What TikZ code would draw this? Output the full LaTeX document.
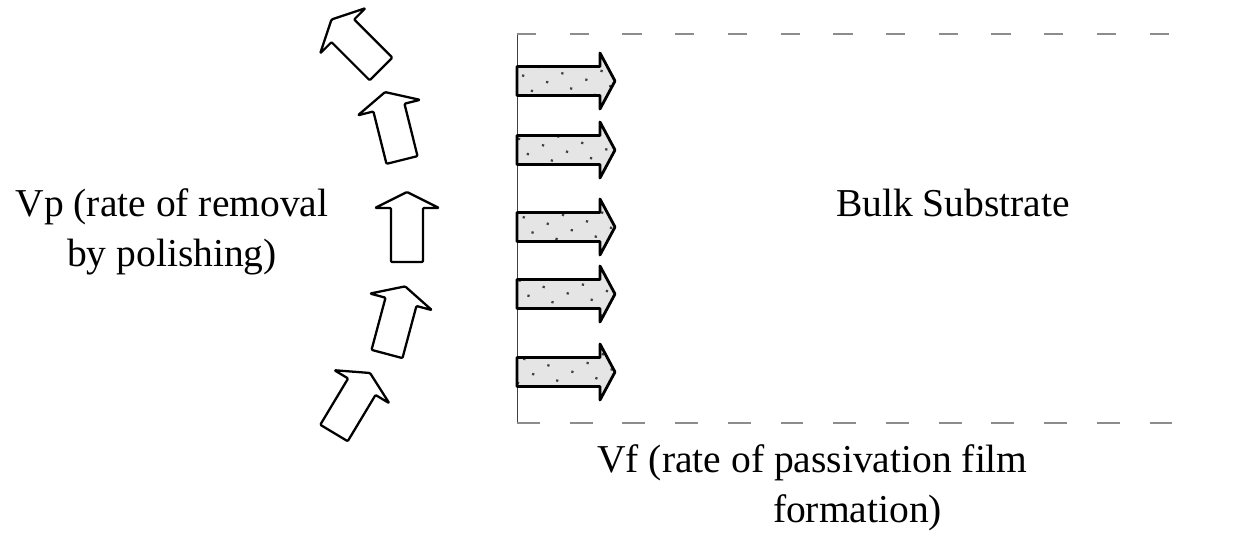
\documentclass[tikz,border=0pt]{standalone}
\usepackage{fontspec}
\setmainfont{Liberation Serif}
\usetikzlibrary{patterns.meta}

\begin{document}
\begin{tikzpicture}[x=0.02cm, y=-0.02cm, line join=round]
	\tikzstyle {Rise}  = [draw=black, line width=1.3pt, fill=white, rounded corners=0.6pt]
	\tikzstyle {Film}  = [draw=black, line width=1.6pt, preaction={fill=black!10}, pattern={Dots[distance=10pt, angle=30, radius=0.9pt]}, pattern color=black!75]
	\tikzstyle {Label} = [font=\fontsize{22.5}{28.5}\selectfont, inner sep=0pt]
	\tikzset{
		rise/.pic = {\path[Rise] (-16,0) -- (-16,-54) -- (-32,-54) -- (0,-70) -- (32,-54) -- (16,-54) -- (16,0) -- cycle;},
		film/.pic = {\path[Film] (0,-14.5) -- (83,-14.5) -- (83,-28) -- (98,0) -- (83,28) -- (83,14.5) -- (0,14.5) -- cycle;}
	}
	\useasboundingbox (0,0) rectangle (1244,540);

	% substrate outline
	\coordinate (Surface-top) at (517,34);
	\coordinate (Surface-bottom) at (517,423);
	\coordinate (Bulk-top) at (1200,34);
	\coordinate (Bulk-bottom) at (1200,423);
	\draw[black!75, line width=0.5pt] (Surface-top) -- (Surface-bottom);
	\draw[black!45, line width=0.8pt, dash pattern=on 11pt off 19pt] (Surface-top) -- (Bulk-top);
	\draw[black!45, line width=0.8pt, dash pattern=on 13pt off 17pt] (Surface-bottom) -- (Bulk-bottom);

	% Vp arrows, tilted along the surface
	\pic[rotate=45]  (Vp-1) at (381,69)  {rise};
	\pic[rotate=14]  (Vp-2) at (402,160) {rise};
	\pic             (Vp-3) at (407,262) {rise};
	\pic[rotate=-15] (Vp-4) at (387,354) {rise};
	\pic[rotate=-31] (Vp-5) at (334,433) {rise};

	% Vf arrows into the bulk
	\pic (Vf-1) at (517,81)  {film};
	\pic (Vf-2) at (517,150) {film};
	\pic (Vf-3) at (517,227) {film};
	\pic (Vf-4) at (517,294) {film};
	\pic (Vf-5) at (517,372) {film};

	% labels
	\node[Label, align=center] (Vp) at (172,232) {Vp (rate of removal\\by polishing)};
	\node[Label] (Bulk) at (953,203) {Bulk Substrate};
	\node[Label, align=left, anchor=west] (Vf) at (597,488) {Vf (rate of passivation film\\\hspace*{100pt}formation)};
\end{tikzpicture}
\end{document}
